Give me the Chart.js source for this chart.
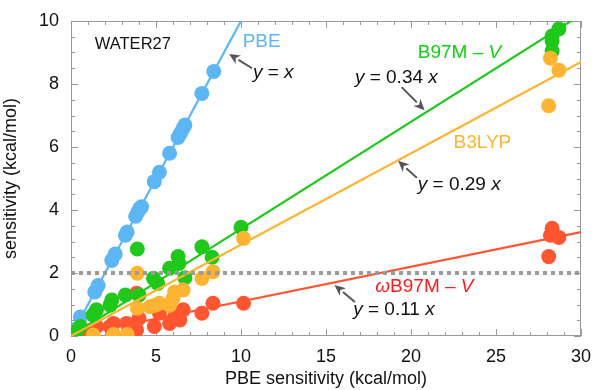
<!DOCTYPE html>
<html>
<head>
<title>WATER27 sensitivity</title>
<script src="https://cdn.jsdelivr.net/npm/chart.js"></script>
<style>
  body { margin: 0; background: #fff; }
  #wrap { width: 595px; height: 390px; }
</style>
</head>
<body>
<div id="wrap"><canvas id="chart"></canvas></div>
<script>
// PBE sensitivity (x) vs. functional sensitivity (y), kcal/mol
const pbeX = [0.2, 0.55, 1.4, 1.6, 2.4, 2.6, 3.2, 3.3, 3.8, 3.95, 4.05, 4.15, 4.9, 5.2, 5.8, 6.3, 6.45, 6.6, 6.7, 7.7, 8.4];
const pbeY = [0.2, 0.6, 1.4, 1.6, 2.4, 2.6, 3.2, 3.3, 3.8, 3.95, 4.05, 4.1, 4.9, 5.2, 5.8, 6.3, 6.45, 6.6, 6.7, 7.7, 8.4];

const b97mvX = [0.3, 0.55, 1.3, 1.5, 2.3, 2.4, 3.2, 3.9, 4.0, 4.85, 5.1, 5.8, 6.3, 6.35, 6.7, 7.7, 8.3, 10.0, 28.3, 28.3, 28.3, 28.7];
const b97mvY = [0.15, 0.3, 0.67, 0.83, 0.98, 1.14, 1.3, 2.76, 1.3, 1.83, 1.67, 2.15, 2.52, 2.3, 1.85, 2.83, 2.5, 3.45, 9.05, 9.37, 9.52, 9.75];

const b3lypX = [1.3, 2.5, 3.3, 3.9, 3.9, 4.65, 4.95, 5.2, 5.8, 6.0, 6.1, 6.6, 7.7, 8.35, 10.15, 28.1, 28.2, 28.7];
const b3lypY = [0.03, 0.05, 0.05, 1.99, 0.88, 0.93, 0.98, 1.04, 0.98, 1.2, 1.4, 1.46, 1.83, 2.04, 3.1, 7.31, 8.82, 8.44];

const wb97mvX = [0.5, 1.2, 1.5, 2.3, 2.5, 3.27, 3.86, 3.86, 4.0, 4.9, 5.2, 5.8, 6.1, 6.4, 6.6, 7.7, 8.35, 10.15, 28.1, 28.2, 28.3, 28.7];
const wb97mvY = [0.08, 0.19, 0.3, 0.3, 0.4, 0.4, 1.36, 0.19, 0.56, 0.3, 0.72, 0.4, 0.61, 0.51, 0.83, 0.72, 1.04, 1.04, 2.52, 3.2, 3.42, 3.13];

const slopes = { pbe: 1, b97mv: 0.34, b3lyp: 0.29, wb97mv: 0.11 };
const threshold = 2;

const xTicks = [0, 5, 10, 15, 20, 25, 30];
const yTicks = [0, 2, 4, 6, 8, 10];

const BLUE = '#5db6f4';
const GREEN = '#1fc81a';
const ORANGE = '#fdb432';
const RED = '#ff5530';
const FONT = 'Liberation Sans, Arial, Helvetica, sans-serif';

function pts(xs, ys) {
  return xs.map((x, i) => ({ x: x, y: ys[i] }));
}
function fitLine(k) {
  return [{ x: 0, y: 0 }, { x: 30, y: k * 30 }];
}

function scatterSet(label, xs, ys, color) {
  return {
    type: 'scatter', label: label, data: pts(xs, ys),
    backgroundColor: color, borderWidth: 0, pointRadius: 7.5, pointHoverRadius: 7.5
  };
}
function lineSet(label, k, color) {
  return {
    type: 'line', label: label, data: fitLine(k),
    borderColor: color, borderWidth: 2.2, pointRadius: 0, fill: false, clip: 0
  };
}

// text labels and arrows, in data coordinates
const notes = [
  { at: [1.4, 9.24], size: 16.5, parts: [['WATER27', false, '#111']] },
  { at: [10.1, 9.33], size: 19, parts: [['PBE', false, BLUE]] },
  { at: [10.7, 8.35], size: 19, parts: [['y', true, '#111'], [' = ', false, '#111'], ['x', true, '#111']] },
  { at: [20.4, 9.0], size: 19, parts: [['B97M \u2013 ', false, '#10d010'], ['V', true, '#10d010']] },
  { at: [16.7, 8.19], size: 19, parts: [['y', true, '#111'], [' = 0.34 ', false, '#111'], ['x', true, '#111']] },
  { at: [22.5, 6.13], size: 19, parts: [['B3LYP', false, ORANGE]] },
  { at: [20.4, 4.79], size: 19, parts: [['y', true, '#111'], [' = 0.29 ', false, '#111'], ['x', true, '#111']] },
  { at: [17.9, 1.56], size: 19, parts: [['\u03c9', true, '#ff1a1a'], ['B97M \u2013 ', false, '#ff1a1a'], ['V', true, '#ff1a1a']] },
  { at: [16.6, 0.83], size: 19, parts: [['y', true, '#111'], [' = 0.11 ', false, '#111'], ['x', true, '#111']] }
];
const arrows = [
  [[10.65, 8.5], [9.3, 8.95]],
  [[19.45, 7.9], [20.8, 7.17]],
  [[20.35, 5.02], [19.24, 5.56]],
  [[16.7, 1.08], [15.5, 1.62]]
];

const frame = {
  id: 'frame',
  beforeDatasetsDraw(chart) {
    const { ctx, chartArea: a, scales: { x, y } } = chart;
    ctx.save();
    ctx.strokeStyle = '#9a9a9a';
    ctx.lineWidth = 1;
    ctx.strokeRect(a.left + 0.5, a.top + 0.5, a.right - a.left - 1, a.bottom - a.top - 1);
    ctx.beginPath();
    for (let v = x.min; v <= x.max + 1e-9; v += 1) {
      const px = Math.round(x.getPixelForValue(v)) + 0.5;
      const len = v % 5 === 0 ? 7 : 4;
      ctx.moveTo(px, a.bottom); ctx.lineTo(px, a.bottom - len);
      ctx.moveTo(px, a.top); ctx.lineTo(px, a.top + len);
    }
    for (let v = y.min; v <= y.max + 1e-9; v += 0.5) {
      const py = Math.round(y.getPixelForValue(v)) + 0.5;
      const len = v % 2 === 0 ? 7 : 4;
      ctx.moveTo(a.left, py); ctx.lineTo(a.left + len, py);
      ctx.moveTo(a.right, py); ctx.lineTo(a.right - len, py);
    }
    ctx.stroke();
    ctx.restore();
  },
  afterDatasetsDraw(chart) {
    const { ctx, scales: { x, y } } = chart;
    ctx.save();
    ctx.textBaseline = 'middle';
    notes.forEach(n => {
      let px = x.getPixelForValue(n.at[0]);
      const py = y.getPixelForValue(n.at[1]);
      n.parts.forEach(([t, it, c]) => {
        ctx.font = (it ? 'italic ' : '') + n.size + 'px ' + FONT;
        ctx.fillStyle = c;
        ctx.fillText(t, px, py);
        px += ctx.measureText(t).width;
      });
    });
    ctx.strokeStyle = '#555';
    ctx.fillStyle = '#555';
    ctx.lineWidth = 2;
    arrows.forEach(([from, to]) => {
      const x0 = x.getPixelForValue(from[0]), y0 = y.getPixelForValue(from[1]);
      const x1 = x.getPixelForValue(to[0]), y1 = y.getPixelForValue(to[1]);
      const ang = Math.atan2(y1 - y0, x1 - x0);
      const hl = 11, hw = 5;
      const bx = x1 - hl * Math.cos(ang), by = y1 - hl * Math.sin(ang);
      ctx.beginPath();
      ctx.moveTo(x0, y0); ctx.lineTo(bx, by);
      ctx.stroke();
      ctx.beginPath();
      ctx.moveTo(x1, y1);
      ctx.lineTo(bx + hw * Math.sin(ang), by - hw * Math.cos(ang));
      ctx.lineTo(x1 - 0.7 * hl * Math.cos(ang), y1 - 0.7 * hl * Math.sin(ang));
      ctx.lineTo(bx - hw * Math.sin(ang), by + hw * Math.cos(ang));
      ctx.closePath();
      ctx.fill();
    });
    ctx.restore();
  }
};

new Chart(document.getElementById('chart'), {
  data: {
    datasets: [
      {
        type: 'line', label: 'threshold', data: [{ x: 0, y: threshold }, { x: 30, y: threshold }],
        borderColor: '#9a9a9a', borderWidth: 4, borderDash: [4, 4], pointRadius: 0, fill: false
      },
      lineSet('B3LYP fit', slopes.b3lyp, ORANGE),
      scatterSet('B3LYP', b3lypX, b3lypY, ORANGE),
      lineSet('B97M-V fit', slopes.b97mv, GREEN),
      scatterSet('B97M-V', b97mvX, b97mvY, GREEN),
      lineSet('wB97M-V fit', slopes.wb97mv, RED),
      scatterSet('wB97M-V', wb97mvX, wb97mvY, RED),
      lineSet('PBE fit', slopes.pbe, BLUE),
      scatterSet('PBE', pbeX, pbeY, BLUE)
    ]
  },
  options: {
    responsive: true,
    maintainAspectRatio: false,
    animation: false,
    layout: { padding: { top: 21, right: 14, left: 0, bottom: 0 } },
    plugins: { legend: { display: false }, tooltip: { enabled: false } },
    scales: {
      x: {
        type: 'linear', min: 0, max: 30,
        afterBuildTicks: s => { s.ticks = xTicks.map(v => ({ value: v })); },
        afterFit: s => { s.height = 54; },
        grid: { display: false }, border: { display: false },
        ticks: { color: '#111', font: { family: FONT, size: 18 }, padding: 2, maxRotation: 0 },
        title: { display: true, text: 'PBE sensitivity (kcal/mol)', color: '#111', font: { family: FONT, size: 18 }, padding: { top: 2, bottom: 0 } }
      },
      y: {
        type: 'linear', min: 0, max: 10,
        afterBuildTicks: s => { s.ticks = yTicks.map(v => ({ value: v })); },
        afterFit: s => { s.width = 71; },
        grid: { display: false }, border: { display: false },
        ticks: { color: '#111', font: { family: FONT, size: 18 }, padding: 4 },
        title: { display: true, text: 'sensitivity (kcal/mol)', color: '#111', font: { family: FONT, size: 18 }, padding: { top: 0, bottom: 4 } }
      }
    }
  },
  plugins: [frame]
});
</script>
</body>
</html>
